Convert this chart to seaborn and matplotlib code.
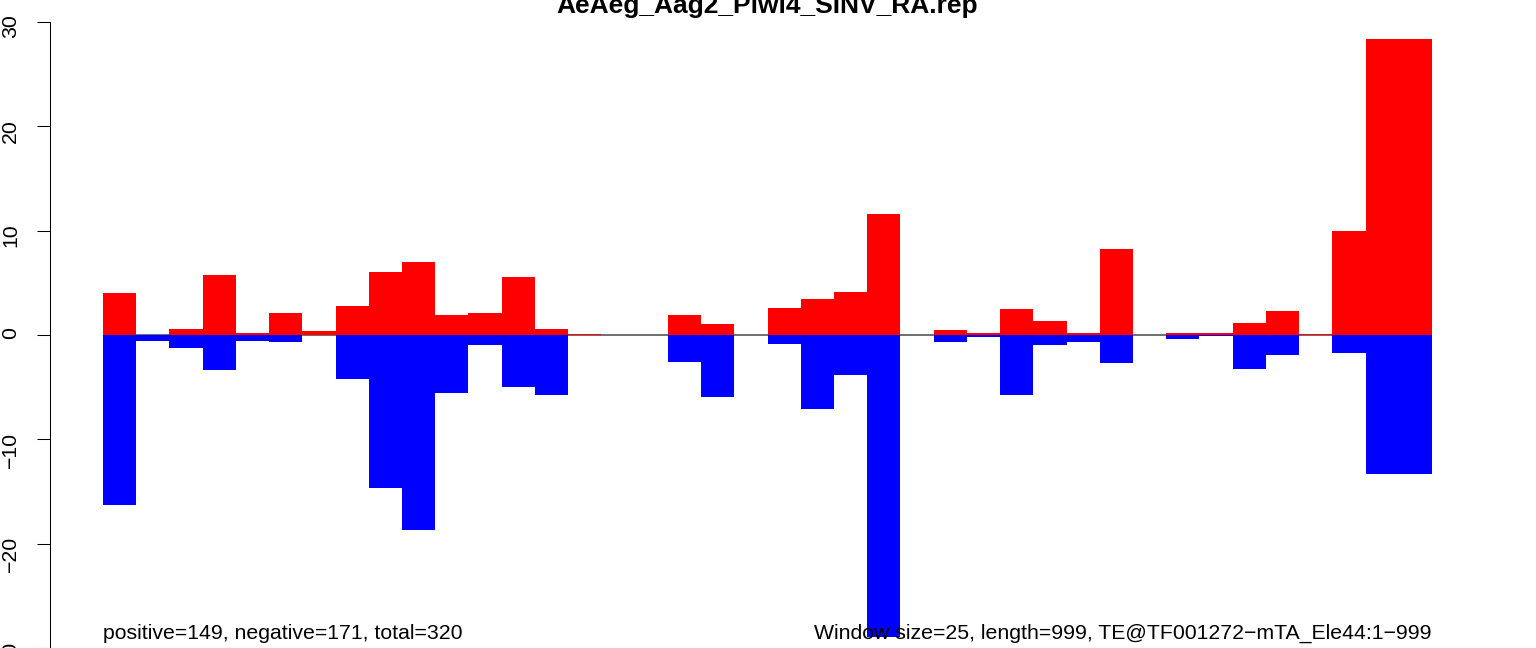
import matplotlib
matplotlib.use("Agg")
import matplotlib.pyplot as plt
import numpy as np
import pandas as pd
import seaborn as sns

title = "AeAeg_Aag2_Piwi4_SINV_RA.rep"
left_note = "positive=149, negative=171, total=320"
right_note = "Window size=25, length=999, TE@TF001272\u2212mTA_Ele44:1\u2212999"

# read counts per 25-nt window (40 windows)
positive = [4.0, 0.0, 0.6, 5.75, 0.2, 2.1, 0.4, 2.8, 6.0, 7.0,
            1.9, 2.1, 5.6, 0.6, 0.1, 0.0, 0.0, 1.9, 1.05, 0.0,
            2.6, 3.45, 4.1, 11.6, 0.0, 0.5, 0.15, 2.5, 1.35, 0.15,
            8.25, 0.0, 0.2, 0.2, 1.15, 2.3, 0.1, 10.0, 28.4, 28.4]
negative = [-16.3, -0.6, -1.2, -3.4, -0.6, -0.7, 0.0, -4.2, -14.7, -18.7,
            -5.6, -1.0, -5.0, -5.75, 0.0, 0.0, 0.0, -2.6, -5.9, 0.0,
            -0.85, -7.1, -3.8, -28.9, 0.0, -0.67, -0.2, -5.75, -0.95, -0.67,
            -2.7, 0.0, -0.4, -0.1, -3.25, -1.9, 0.0, -1.7, -13.3, -13.3]
yticks = [-30, -20, -10, 0, 10, 20, 30]

df = pd.DataFrame({
    'window': np.arange(len(positive)),
    'positive': positive,
    'negative': negative,
})

sns.set_style('white')
plt.rcParams['font.family'] = ['Liberation Sans', 'DejaVu Sans']
plt.rcParams['text.color'] = 'black'

fig = plt.figure(figsize=(15.36, 6.48), dpi=100)
ax = fig.add_axes([103 / 1536, 0.0, (1432 - 103) / 1536, 1 - 22 / 648])

ax.axhline(0, color='#555555', lw=1.2, zorder=1)
sns.barplot(data=df, x='window', y='positive', color='#ff0000', saturation=1,
            width=1.0, linewidth=0, ax=ax, zorder=2)
sns.barplot(data=df, x='window', y='negative', color='#0000ff', saturation=1,
            width=1.0, linewidth=0, ax=ax, zorder=2)

ax.set_xlim(-0.5, len(positive) - 0.5)
ax.set_ylim(-30, 30)
ax.set_xlabel('')
ax.set_ylabel('')
ax.set_xticks([])
ax.set_yticks(yticks)
ax.set_yticklabels([str(t).replace('-', '\u2212') for t in yticks])
ax.tick_params(axis='y', length=9.4, width=0.75, pad=12, color='black', left=True,
               labelsize=15.3, labelrotation=90, labelcolor='black')
for lab in ax.get_yticklabels():
    lab.set_va('center')

for s in ['top', 'right', 'bottom']:
    ax.spines[s].set_visible(False)
ax.spines['left'].set_position(('outward', 38.2))
ax.spines['left'].set_linewidth(0.75)
ax.spines['left'].set_color('black')
ax.patch.set_alpha(0)

ax.text(-0.5, -29.1, left_note, ha='left', va='baseline', fontsize=15.3,
        color='black', zorder=5)
ax.text(len(positive) - 0.5, -29.1, right_note, ha='right', va='baseline',
        fontsize=15.3, color='black', zorder=5)

fig.text((103 + 1432) / 2 / 1536, 1 - 13 / 648, title, ha='center', va='baseline',
         fontsize=19, fontweight='bold', color='black')

fig.savefig('out.png', dpi=100, facecolor='white')
